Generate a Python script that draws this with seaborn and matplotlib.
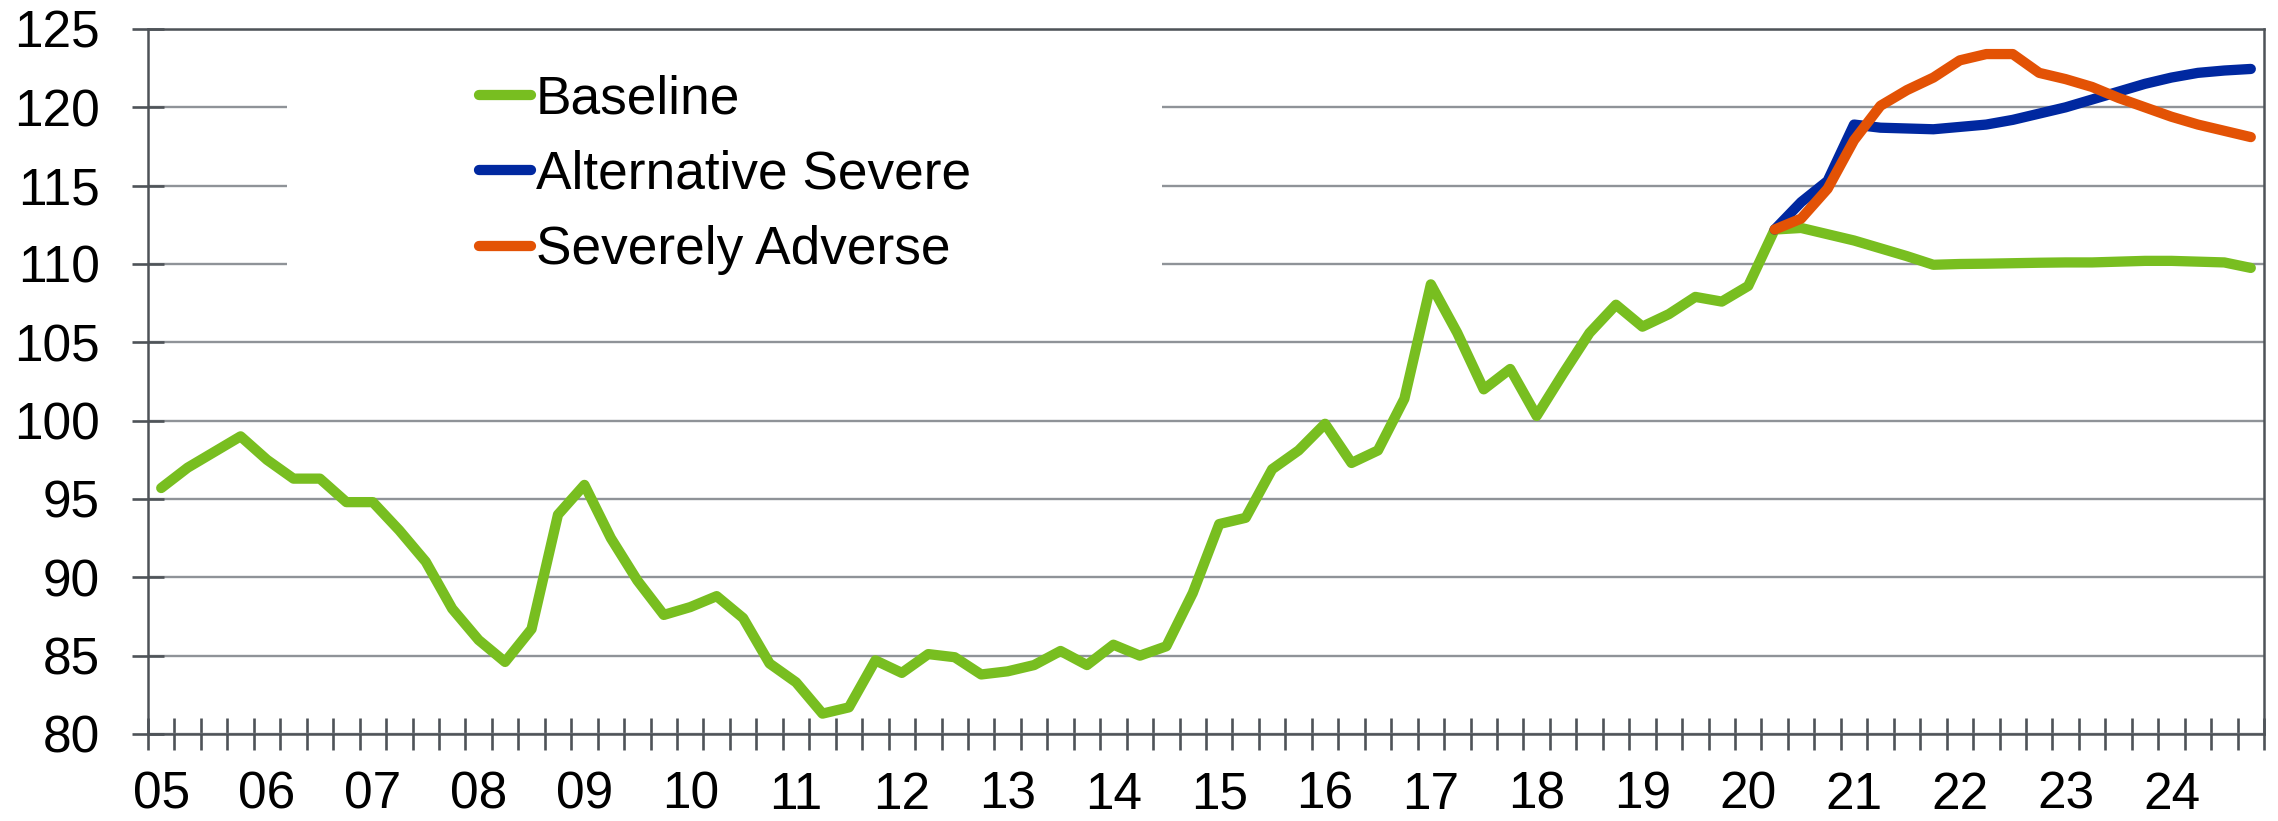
import numpy as np
import pandas as pd
import matplotlib
matplotlib.use("Agg")
import matplotlib.pyplot as plt
import seaborn as sns
from matplotlib.patches import Rectangle
from matplotlib.ticker import FixedLocator, FixedFormatter, NullFormatter

# ---------------- data ----------------
years = list(range(2005, 2025))
year_labels = [f"{y % 100:02d}" for y in years]
quarters = [f"{y}Q{q}" for y in years for q in range(1, 5)]

baseline = [
    95.7, 97.0, 98.0, 99.0,      # 2005
    97.5, 96.3, 96.3, 94.8,      # 2006
    94.8, 93.0, 91.0, 88.0,      # 2007
    86.0, 84.6, 86.7, 94.0,      # 2008
    95.9, 92.5, 89.8, 87.6,      # 2009
    88.1, 88.8, 87.4, 84.5,      # 2010
    83.3, 81.3, 81.7, 84.7,      # 2011
    83.9, 85.1, 84.9, 83.8,      # 2012
    84.0, 84.4, 85.3, 84.4,      # 2013
    85.7, 85.0, 85.6, 89.0,      # 2014
    93.4, 93.8, 96.9, 98.1,      # 2015
    99.8, 97.3, 98.1, 101.4,     # 2016
    108.7, 105.6, 102.0, 103.3,  # 2017
    100.3, 103.0, 105.6, 107.4,  # 2018
    106.0, 106.8, 107.9, 107.6,  # 2019
    108.6, 112.2, 112.3, 111.9,  # 2020
    111.5, 111.0, 110.5, 109.95, # 2021
    110.0, 110.02, 110.05, 110.08,  # 2022
    110.1, 110.1, 110.15, 110.2,    # 2023
    110.2, 110.15, 110.1, 109.75,   # 2024
]

scenario_start = "2020Q2"
alternative_severe = [112.2, 113.95, 115.3, 118.9, 118.7, 118.65, 118.6, 118.75,
                      118.9, 119.2, 119.6, 120.0, 120.5, 121.0, 121.5, 121.9,
                      122.2, 122.35, 122.45]
severely_adverse = [112.2, 112.9, 114.8, 117.9, 120.1, 121.1, 121.9, 123.0,
                    123.4, 123.4, 122.2, 121.8, 121.3, 120.6, 120.0, 119.4,
                    118.9, 118.5, 118.1]

series_names = ["Baseline", "Alternative Severe", "Severely Adverse"]
series_colors = ["#78BE20", "#0028A0", "#E35205"]
y_ticks = [80, 85, 90, 95, 100, 105, 110, 115, 120, 125]

# ---------------- table ----------------
rows = [("Baseline", q, v) for q, v in zip(quarters, baseline)]
s0 = quarters.index(scenario_start)
rows += [("Alternative Severe", q, v) for q, v in zip(quarters[s0:], alternative_severe)]
rows += [("Severely Adverse", q, v) for q, v in zip(quarters[s0:], severely_adverse)]
df = pd.DataFrame(rows, columns=["series", "quarter", "value"])
pos_map = {q: i + 0.5 for i, q in enumerate(quarters)}
df["pos"] = df["quarter"].map(pos_map)

# ---------------- style ----------------
sns.set_style("white")
plt.rcParams["font.family"] = ["Liberation Sans", "DejaVu Sans"]
plt.rcParams["text.color"] = "black"

axis_color = "#4e5358"
grid_color = "#8f9398"
FS = 37
LEG_FS = 38.3

fig = plt.figure(figsize=(22.78, 8.21), dpi=100)
ax = fig.add_axes([0.06497, 0.10597, 0.92889, 0.85871])

sns.lineplot(data=df, x="pos", y="value", hue="series", hue_order=series_names,
             palette=series_colors, linewidth=7.4, estimator=None,
             solid_capstyle="round", ax=ax, zorder=3)

ax.set_xlim(0, len(quarters))
ax.set_ylim(y_ticks[0], y_ticks[-1])
ax.set_xlabel("")
ax.set_ylabel("")

# y axis
ax.set_yticks(y_ticks)
ax.set_yticklabels([str(t) for t in y_ticks])
ax.yaxis.grid(True, color=grid_color, linewidth=1.7)
ax.xaxis.grid(False)
ax.set_axisbelow(True)

# x axis: quarter tick marks, year labels
ax.xaxis.set_major_locator(FixedLocator(np.arange(0, len(quarters) + 1)))
ax.xaxis.set_major_formatter(NullFormatter())
ax.xaxis.set_minor_locator(FixedLocator([pos_map[f"{y}Q1"] for y in years]))
ax.xaxis.set_minor_formatter(FixedFormatter(year_labels))

ax.tick_params(axis="both", which="major", direction="inout", length=23,
               width=1.9, color=axis_color, labelsize=FS, labelcolor="black",
               bottom=True, left=True)
ax.tick_params(axis="y", which="major", pad=23)
ax.tick_params(axis="x", which="minor", length=0, pad=26.5, labelsize=FS,
               labelcolor="black", bottom=True)

for sp in ax.spines.values():
    sp.set_visible(True)
    sp.set_color(axis_color)
    sp.set_linewidth(1.8)
    sp.set_zorder(4)

# white area behind the legend (hides gridlines)
ax.add_patch(Rectangle((0.0657, 0.615), 0.4135, 0.375, transform=ax.transAxes,
                       facecolor="white", edgecolor="none", zorder=1))

leg = ax.get_legend()
if leg is not None:
    leg.remove()
handles = ax.lines[:3]
ax.legend(handles, series_names, loc="center left", bbox_to_anchor=(0.1564, 0.793),
          frameon=False, fontsize=LEG_FS, handlelength=0.98, handletextpad=0.09,
          labelspacing=0.48, borderpad=0, borderaxespad=0, labelcolor="black")

fig.savefig("out.png", dpi=100)
